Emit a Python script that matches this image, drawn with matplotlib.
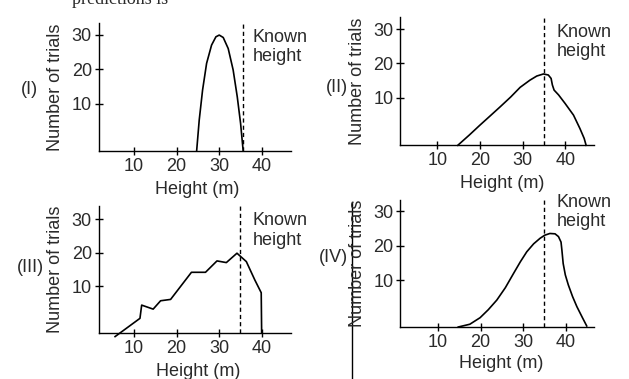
import matplotlib
matplotlib.use("Agg")
import matplotlib.pyplot as plt

plt.rcParams['font.family'] = ['Liberation Sans', 'DejaVu Sans']

# data (height in m, number of trials)
known_height = [35.55, 35.0, 35.0, 34.8]

x1 = [24.72, 25.33, 26.12, 27.06, 28.23, 29.25, 30.03, 30.97, 32.14, 33.3, 34.27, 35.05, 35.66]
y1 = [-3.7, 5.3, 14.0, 21.7, 27.0, 29.4, 29.9, 29.2, 26.0, 19.8, 12.0, 4.3, -3.7]

x2 = [14.8, 17.5, 20.0, 22.4, 24.7, 27.2, 29.4, 31.7, 33.3, 34.85, 36.0, 36.65, 36.95, 37.35,
      38.4, 39.93, 41.9, 43.4, 44.4, 44.85]
y2 = [-3.9, -0.9, 2.0, 4.7, 7.3, 10.2, 13.0, 15.1, 16.3, 16.9, 16.6, 15.6, 13.7, 12.2,
      10.8, 8.3, 4.9, 1.0, -1.9, -3.9]

x3 = [5.55, 11.4, 11.8, 14.5, 16.25, 18.6, 21.2, 23.5, 26.8, 29.5, 31.7, 34.2, 36.4, 38.4, 39.9, 40.0]
y3 = [-5.1, 0.35, 4.3, 3.1, 5.6, 6.0, 10.3, 14.1, 14.1, 17.5, 17.0, 19.8, 17.3, 11.8, 8.0, -3.9]

x4 = [14.8, 17.5, 19.9, 21.8, 23.8, 25.8, 27.7, 29.3, 30.8, 32.4, 33.9, 35.0, 36.2, 37.4, 38.2,
      38.8, 39.0, 39.3, 39.8, 40.5, 41.5, 42.5, 43.8, 44.8]
y4 = [-3.6, -2.8, -0.9, 1.4, 4.2, 7.8, 11.9, 15.3, 18.2, 20.5, 22.1, 23.0, 23.5, 23.4, 22.6,
      21.0, 18.7, 14.8, 11.5, 8.6, 5.2, 2.3, -0.9, -3.3]

xticks = [10, 20, 30, 40]
yticks = [10, 20, 30]
panel_labels = ['(I)', '(II)', '(III)', '(IV)']

W, H = 629, 379
txt = '#2a2a2a'
fs = 13

fig = plt.figure(figsize=(W / 100, H / 100), dpi=100)

def fx(px):
    return px / W

def fy(py):
    return 1 - py / H

# axes rectangles in pixels: left, right, top, bottom ; plus limits
panels = [
    dict(px=(98.7, 291, 23, 151), xlim=(1.7, 46.9), ylim=(-3.7, 33.4), x=x1, y=y1,
         lab=(29.5, 89.5), ylab=(56, 87.5), xlab=(197.5, 189), known=(253, 31.7)),
    dict(px=(400.3, 594, 16.7, 145.3), xlim=(1.33, 46.7), ylim=(-3.9, 33.6), x=x2, y=y2,
         lab=(337, 87), ylab=(358, 81), xlab=(502, 183), known=(557, 26.7)),
    dict(px=(98.7, 291, 206, 332.7), xlim=(1.7, 46.9), ylim=(-3.94, 33.9), x=x3, y=y3,
         lab=(30, 267), ylab=(56, 269), xlab=(198, 371), known=(253, 215)),
    dict(px=(400.3, 594, 200, 327), xlim=(1.26, 46.5), ylim=(-3.6, 33.2), x=x4, y=y4,
         lab=(333.5, 257), ylab=(358, 263), xlab=(501, 364), known=(557, 196.7)),
]

for i, p in enumerate(panels):
    l, r, t, b = p['px']
    ax = fig.add_axes([fx(l), fy(b), (r - l) / W, (b - t) / H])
    ax.set_xlim(*p['xlim'])
    ax.set_ylim(*p['ylim'])
    ax.patch.set_alpha(0)
    for s in ['top', 'right']:
        ax.spines[s].set_visible(False)
    for s in ['left', 'bottom']:
        ax.spines[s].set_linewidth(1.0)
        ax.spines[s].set_color('black')
    ax.set_xticks(xticks)
    ax.set_yticks(yticks)
    ax.tick_params(direction='inout', length=6, width=1, labelsize=fs,
                   labelcolor=txt, pad=2)
    ax.plot(p['x'], p['y'], color='black', lw=1.2, clip_on=False,
            solid_joinstyle='round')
    ax.axvline(known_height[i], color='black', lw=1, ls=(0, (3, 2.2)))

    fig.text(fx(p['lab'][0]), fy(p['lab'][1]), panel_labels[i], fontsize=fs,
             color=txt, ha='center', va='center')
    fig.text(fx(p['ylab'][0]), fy(p['ylab'][1]), 'Number of trials', fontsize=fs,
             color=txt, ha='center', va='center', rotation=90)
    fig.text(fx(p['xlab'][0]), fy(p['xlab'][1]), 'Height (m)', fontsize=fs,
             color=txt, ha='center', va='center')
    fig.text(fx(p['known'][0]), fy(p['known'][1] - 3), 'Known\nheight', fontsize=fs,
             color=txt, ha='left', va='top', linespacing=1.2)

# stray rule and clipped line from the page scan (cut at the top edge as in the scan)
fig.add_artist(plt.Line2D([fx(352.3), fx(352.3)], [fy(202), fy(379)], color='black', lw=1))
fig.text(fx(72), fy(4), 'predictions is', family='Liberation Serif', fontsize=fs,
         color=txt, ha='left', va='baseline')

fig.savefig('out.png', dpi=100)
